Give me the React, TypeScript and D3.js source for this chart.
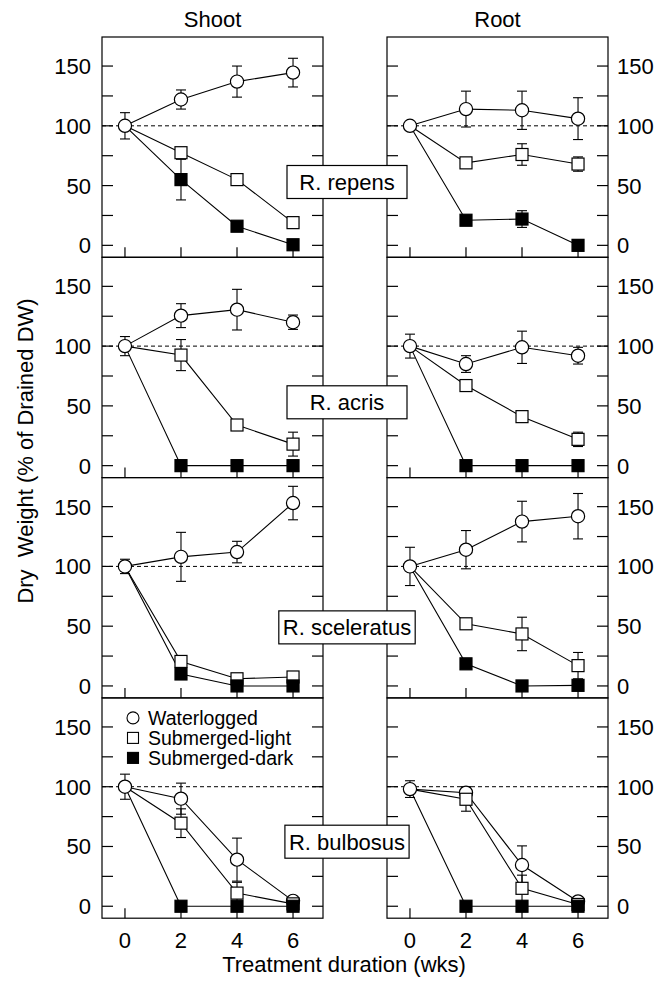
import React from 'react';
import * as d3 from 'd3';

const weeks = [0, 2, 4, 6];
const species = ['R. repens', 'R. acris', 'R. sceleratus', 'R. bulbosus'];
const tissues = ['Shoot', 'Root'];
const seriesNames = ['Waterlogged', 'Submerged-light', 'Submerged-dark'];
const yTicks = [0, 25, 50, 75, 100, 125, 150];
const yTickLabels = [0, 50, 100, 150];
const xTicks = [0, 2, 4, 6];
const labelValues = [53, 53, 49, 54];

// [Waterlogged, Submerged-light, Submerged-dark] means at weeks 0,2,4,6
const repensShoot = [[100, 122, 137, 144.5], [100, 77.5, 55, 19], [100, 55, 16, 0.5]];
const repensShootErr = [[11, 8, 13, 12], [0, 4, 0, 0], [0, 17, 0, 4]];
const repensRoot = [[100, 114, 113, 106], [100, 69, 76, 68], [100, 21, 22, 0]];
const repensRootErr = [[0, 15, 16, 17.5], [0, 0, 9, 6], [0, 0, 7, 3]];
const acrisShoot = [[100, 125.5, 130.5, 120], [100, 92.5, 34, 18], [100, 0, 0, 0]];
const acrisShootErr = [[8, 10, 17, 6], [0, 13, 0, 10], [0, 0, 0, 0]];
const acrisRoot = [[100, 85, 99, 92], [100, 67, 41, 22], [100, 0, 0, 0]];
const acrisRootErr = [[10, 7, 13.5, 7], [0, 3, 3, 6], [0, 0, 0, 0]];
const sceleratusShoot = [[100, 108, 112, 153], [100, 20.5, 6, 7.5], [100, 10, 0, 0]];
const sceleratusShootErr = [[6, 20.5, 9, 14], [0, 0, 0, 0], [0, 0, 0, 0]];
const sceleratusRoot = [[100, 114, 137.5, 142], [100, 52, 43.5, 17], [100, 18.5, 0, 0.5]];
const sceleratusRootErr = [[16, 16, 17, 19], [0, 3, 14, 11], [0, 4, 0, 0]];
const bulbosusShoot = [[100, 90, 39, 4.5], [100, 69.5, 11, 2], [100, 0, 0, 0]];
const bulbosusShootErr = [[10.5, 13, 18, 0], [0, 12, 9, 0], [0, 0, 0, 0]];
const bulbosusRoot = [[98, 95, 34.5, 4], [98, 89.5, 15, 1.5], [98, 0, 0, 0]];
const bulbosusRootErr = [[7, 5, 16, 0], [0, 10, 11, 0], [0, 0, 0, 0]];

const means = [
  [repensShoot, repensRoot],
  [acrisShoot, acrisRoot],
  [sceleratusShoot, sceleratusRoot],
  [bulbosusShoot, bulbosusRoot],
];
const errs = [
  [repensShootErr, repensRootErr],
  [acrisShootErr, acrisRootErr],
  [sceleratusShootErr, sceleratusRootErr],
  [bulbosusShootErr, bulbosusRootErr],
];

const FONT = '"Liberation Sans", Arial, Helvetica, sans-serif';
const W = 655;
const H = 983;
const panelLeft = [102, 387];
const panelW = 221;
const panelTop = 37;
const panelH = 220.3;
const xDomain = [-0.82, 7.07];
const yDomain = [-10, 174.3];

function measure(text: string, size: number): number {
  try {
    const c = document.createElement('canvas').getContext('2d');
    if (c) {
      c.font = `${size}px "Liberation Sans", Arial, sans-serif`;
      return c.measureText(text).width;
    }
  } catch (e) {}
  return text.length * size * 0.52;
}

function Marker({ kind, x, y }: { kind: number; x: number; y: number }) {
  if (kind === 0) return <circle cx={x} cy={y} r={6.6} fill="#fff" stroke="#000" strokeWidth={1.2} />;
  const s = 12;
  return (
    <rect x={x - s / 2} y={y - s / 2} width={s} height={s}
      fill={kind === 2 ? '#000' : '#fff'} stroke="#000" strokeWidth={1.2} />
  );
}

function Panel({ r, c }: { r: number; c: number }) {
  const x0 = panelLeft[c];
  const y0 = panelTop + r * panelH;
  const xs = d3.scaleLinear().domain(xDomain).range([x0, x0 + panelW]);
  const ys = d3.scaleLinear().domain(yDomain).range([y0 + panelH, y0]);
  const line = d3.line<number>().x((_, i) => xs(weeks[i])).y(d => ys(d));
  const m = means[r][c];
  const e = errs[r][c];
  const tl = 11;
  const cap = 5;
  return (
    <g>
      <rect x={x0} y={y0} width={panelW} height={panelH} fill="none" stroke="#000" strokeWidth={1.2} />
      <line x1={x0} x2={x0 + panelW} y1={ys(100)} y2={ys(100)} stroke="#000" strokeWidth={1} strokeDasharray="4,3" />
      {yTicks.map(t => (
        <g key={'yt' + t}>
          <line x1={x0} x2={x0 + tl} y1={ys(t)} y2={ys(t)} stroke="#000" strokeWidth={1.2} />
          <line x1={x0 + panelW - tl} x2={x0 + panelW} y1={ys(t)} y2={ys(t)} stroke="#000" strokeWidth={1.2} />
        </g>
      ))}
      {xTicks.map(t => (
        <line key={'xt' + t} x1={xs(t)} x2={xs(t)} y1={y0 + panelH} y2={y0 + panelH - 10} stroke="#000" strokeWidth={1.2} />
      ))}
      {yTickLabels.map(t => (
        <text key={'yl' + t} x={c === 0 ? x0 - 11 : x0 + panelW + 9} y={ys(t) + 8}
          textAnchor={c === 0 ? 'end' : 'start'} fontSize={22} fontFamily={FONT}>{t}</text>
      ))}
      {r === 3 && xTicks.map(t => (
        <text key={'xl' + t} x={xs(t)} y={y0 + panelH + 30} textAnchor="middle" fontSize={22} fontFamily={FONT}>{t}</text>
      ))}
      {m.map((s, k) => (
        <path key={'ln' + k} d={line(s) || ''} fill="none" stroke="#000" strokeWidth={1.1} />
      ))}
      {m.map((s, k) => s.map((v, i) => e[k][i] > 0 ? (
        <g key={'eb' + k + '-' + i}>
          <line x1={xs(weeks[i])} x2={xs(weeks[i])} y1={ys(v - e[k][i])} y2={ys(v + e[k][i])} stroke="#000" strokeWidth={1.1} />
          <line x1={xs(weeks[i]) - cap} x2={xs(weeks[i]) + cap} y1={ys(v - e[k][i])} y2={ys(v - e[k][i])} stroke="#000" strokeWidth={1.1} />
          <line x1={xs(weeks[i]) - cap} x2={xs(weeks[i]) + cap} y1={ys(v + e[k][i])} y2={ys(v + e[k][i])} stroke="#000" strokeWidth={1.1} />
        </g>
      ) : null))}
      {m.map((s, k) => s.map((v, i) => i > 0 ? (
        <Marker key={'mk' + k + '-' + i} kind={k} x={xs(weeks[i])} y={ys(v)} />
      ) : null))}
      <Marker kind={0} x={xs(weeks[0])} y={ys(m[0][0])} />
    </g>
  );
}

export default function App() {
  const rows = species.map((_, r) => r);
  const legendX = panelLeft[0] + 31;
  const legendY = panelTop + 3 * panelH + 20;
  return (
    <svg width={W} height={H} style={{ position: 'absolute', left: 0, top: 0, background: '#fff' }}>
      <rect x={0} y={0} width={W} height={H} fill="#fff" />
      {tissues.map((t, c) => (
        <text key={t} x={panelLeft[c] + panelW / 2} y={27} textAnchor="middle" fontSize={22} fontFamily={FONT}>{t}</text>
      ))}
      {rows.map(r => tissues.map((_, c) => <Panel key={r + '-' + c} r={r} c={c} />))}
      {rows.map(r => {
        const ys = d3.scaleLinear().domain(yDomain).range([panelTop + (r + 1) * panelH, panelTop + r * panelH]);
        const tw = measure(species[r], 22);
        const bw = Math.max(120, tw + 8);
        const cx = 347;
        const cy = ys(labelValues[r]);
        return (
          <g key={'lab' + r}>
            <rect x={cx - bw / 2} y={cy - 16.5} width={bw} height={33} fill="#fff" stroke="#000" strokeWidth={1.2} />
            <text x={cx} y={cy + 8} textAnchor="middle" fontSize={22} fontFamily={FONT}>{species[r]}</text>
          </g>
        );
      })}
      {seriesNames.map((n, k) => (
        <g key={n}>
          {k === 0 ? <circle cx={legendX} cy={legendY + k * 20} r={6} fill="#fff" stroke="#000" strokeWidth={1.1} />
            : <rect x={legendX - 5.5} y={legendY + k * 20 - 5.5} width={11} height={11} fill={k === 2 ? '#000' : '#fff'} stroke="#000" strokeWidth={1.1} />}
          <text x={legendX + 15} y={legendY + k * 20 + 7} fontSize={19.5} fontFamily={FONT}>{n}</text>
        </g>
      ))}
      <text x={344} y={972} textAnchor="middle" fontSize={22} fontFamily={FONT}>Treatment duration (wks)</text>
      <text transform="translate(33,451) rotate(-90)" textAnchor="middle" fontSize={22} fontFamily={FONT} style={{ whiteSpace: 'pre' }}>{'Dry  Weight (% of Drained DW)'}</text>
    </svg>
  );
}
